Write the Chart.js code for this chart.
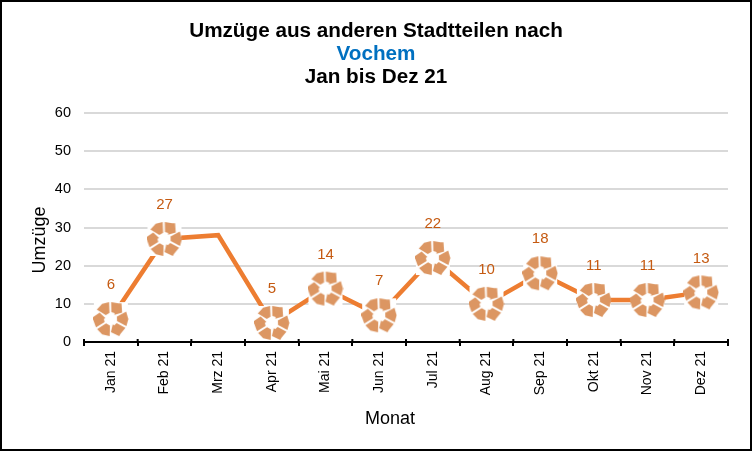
<!DOCTYPE html>
<html lang="de">
<head>
<meta charset="utf-8">
<title>Umzüge nach Vochem</title>
<script src="https://cdn.jsdelivr.net/npm/chart.js@4"></script>
<style>
    body { margin: 0; background: #fff; }
    #wrap { position: relative; width: 752px; height: 451px; overflow: hidden; font-family: "Liberation Sans", Arial, sans-serif; }
    #frame { position: absolute; inset: 0; border: 2px solid #000; box-sizing: border-box; pointer-events: none; }
    #title {
        position: absolute; left: 0; right: 0; top: 18px; text-align: center;
        font-weight: bold; font-size: 20.7px; line-height: 23px; color: #000;
    }
    #title .ort { color: #0070c0; }
    .achse { position: absolute; font-size: 18px; line-height: 20px; color: #000; white-space: nowrap; }
    #achseX { left: 390px; top: 408px; transform: translateX(-50%); }
    #achseY { left: 39px; top: 240px; transform: translate(-50%, -50%) rotate(-90deg); }
    canvas { display: block; }
</style>
</head>
<body>
<div id="wrap">
    <canvas id="chart" width="752" height="451"></canvas>
    <div id="title">Umzüge aus anderen Stadtteilen nach<br><span class="ort">Vochem</span><br>Jan bis Dez 21</div>
    <div class="achse" id="achseX">Monat</div>
    <div class="achse" id="achseY">Umzüge</div>
    <div id="frame"></div>
</div>
<script>
// Daten
const monate = ['Jan 21', 'Feb 21', 'Mrz 21', 'Apr 21', 'Mai 21', 'Jun 21', 'Jul 21', 'Aug 21', 'Sep 21', 'Okt 21', 'Nov 21', 'Dez 21'];
const umzuege = [6, 27, 28, 5, 14, 7, 22, 10, 18, 11, 11, 13];
// Mrz 21 hat im Original weder Symbol noch Beschriftung
const mitSymbol = [true, true, false, true, true, true, true, true, true, true, true, true];
const yTicks = [0, 10, 20, 30, 40, 50, 60];

const schrift = '"Liberation Sans", Arial, sans-serif';

// Recycling-Symbol als pointStyle
function recyclingSymbol() {
    const c = document.createElement('canvas');
    c.width = 36;
    c.height = 36;
    const g = c.getContext('2d');
    g.translate(18, 18);
    // weißer Hintergrund des Bildes verdeckt Linie und Gitter
    g.fillStyle = '#fff';
    g.fillRect(-17, -17, 34, 34);
    g.fillStyle = '#dc9662';
    g.filter = 'blur(0.4px)';
    // Winkel ab 12 Uhr im Uhrzeigersinn
    const polar = (r, grad) => {
        const w = grad * Math.PI / 180;
        return [r * Math.sin(w), -r * Math.cos(w)];
    };
    const form = (punkte) => {
        g.beginPath();
        punkte.forEach(([r, w], i) => {
            const [x, y] = polar(r, w);
            if (i === 0) g.moveTo(x, y); else g.lineTo(x, y);
        });
        g.closePath();
        g.fill();
    };
    for (let i = 0; i < 3; i++) {
        const a = i * 120;
        // Block
        form([[6.5, a - 52], [17, a - 56], [17.5, a - 30], [17, a - 6], [6.5, a - 12]]);
        // Pfeil
        form([[17, a + 1], [17.5, a + 26], [19, a + 34], [13, a + 60], [5.5, a + 40], [7, a + 32], [7, a + 4]]);
    }
    return c;
}
const symbol = recyclingSymbol();

// Werte über den Symbolen
const wertePlugin = {
    id: 'werte',
    afterDatasetsDraw(chart) {
        const ctx = chart.ctx;
        const punkte = chart.getDatasetMeta(0).data;
        ctx.save();
        ctx.font = '15px ' + schrift;
        ctx.fillStyle = '#c55a11';
        ctx.textAlign = 'center';
        ctx.textBaseline = 'middle';
        punkte.forEach((p, i) => {
            if (mitSymbol[i]) ctx.fillText(String(umzuege[i]), p.x, p.y - 34);
        });
        ctx.restore();
    }
};

// Teilstriche gehen auch ein Stück über die Achse
const strichPlugin = {
    id: 'striche',
    afterDraw(chart) {
        const ctx = chart.ctx;
        const x = chart.scales.x;
        const y = chart.chartArea.bottom;
        ctx.save();
        ctx.strokeStyle = '#000';
        ctx.lineWidth = 2;
        for (let i = 0; i <= monate.length; i++) {
            const px = x.left + (x.right - x.left) * i / monate.length;
            ctx.beginPath();
            ctx.moveTo(px, y - 3);
            ctx.lineTo(px, y);
            ctx.stroke();
        }
        ctx.restore();
    }
};

new Chart(document.getElementById('chart').getContext('2d'), {
    type: 'line',
    data: {
        labels: monate,
        datasets: [{
            data: umzuege,
            borderColor: '#ed7d31',
            borderWidth: 4.5,
            tension: 0,
            fill: false,
            pointStyle: ctx => mitSymbol[ctx.dataIndex] ? symbol : false
        }]
    },
    options: {
        responsive: false,
        animation: false,
        layout: { padding: { left: 0, top: 113, right: 24, bottom: 0 } },
        plugins: { legend: { display: false }, title: { display: false }, tooltip: { enabled: false } },
        scales: {
            x: {
                offset: true,
                afterFit(scale) { scale.height = 109; },
                grid: { drawOnChartArea: false, color: '#000', lineWidth: 2, tickLength: 4, offset: true },
                border: { color: '#000', width: 2 },
                ticks: { color: '#000', font: { family: schrift, size: 14 }, maxRotation: 90, minRotation: 90, padding: 5 }
            },
            y: {
                min: 0,
                max: 60,
                afterBuildTicks(scale) { scale.ticks = yTicks.map(v => ({ value: v })); },
                afterFit(scale) { scale.width = 84; },
                grid: { color: '#d9d9d9', lineWidth: 2, drawTicks: false },
                border: { display: false },
                ticks: { color: '#000', font: { family: schrift, size: 14.5 }, padding: 13 }
            }
        }
    },
    plugins: [wertePlugin, strichPlugin]
});
</script>
</body>
</html>
